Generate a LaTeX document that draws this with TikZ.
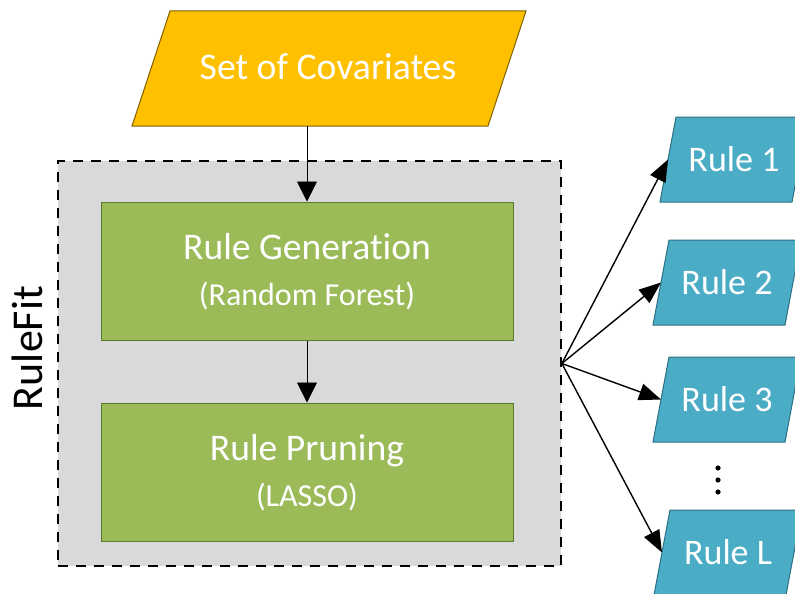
\documentclass[tikz,border=0pt]{standalone}
\usepackage{fontspec}
\setmainfont{Carlito}[Ligatures=NoCommon]
\usetikzlibrary{arrows.meta}
\definecolor{ygold}{HTML}{FFC000}
\definecolor{yedge}{HTML}{7F6000}
\definecolor{ggreen}{HTML}{9BBB59}
\definecolor{gedge}{HTML}{5A7A2E}
\definecolor{bblue}{HTML}{4BACC6}
\definecolor{bedge}{HTML}{2C6F82}
\definecolor{lgray}{HTML}{D9D9D9}
\begin{document}
\begin{tikzpicture}[x=1pt,y=-1pt,
  greenbox/.style={draw=gedge, fill=ggreen, line width=1pt, minimum width=412pt, minimum height=138pt, inner sep=0pt},
  wtext/.style={text=white, anchor=base, inner sep=0pt},
  arr/.style={-{Triangle[length=20pt,width=20pt]}, line width=0.9pt},
  farr/.style={-{Triangle[length=22pt,width=17pt]}, line width=1.4pt},
  rulebox/.style={draw=bedge, fill=bblue, line width=1pt},
  ruletext/.style={wtext, font=\fontsize{36pt}{40pt}\selectfont},
]
\useasboundingbox (0,0) rectangle (795,594);

% RuleFit container
\node[draw=black, dash pattern=on 10pt off 8pt, line width=1.7pt, fill=lgray,
      minimum width=503pt, minimum height=405pt, inner sep=0pt] (rulefit) at (309.5,363.5) {};
\node[anchor=base, rotate=90, inner sep=0pt, font=\fontsize{44pt}{48pt}\selectfont] (rflabel) at (42,348) {RuleFit};

% green boxes
\node[greenbox] (gen) at (307,271) {};
\node[wtext, font=\fontsize{37.6pt}{40pt}\selectfont] (genA) at (307,259) {Rule Generation};
\node[wtext, font=\fontsize{32pt}{36pt}\selectfont] (genB) at (307,305) {(Random Forest)};

\node[greenbox] (prune) at (307,472) {};
\node[wtext, font=\fontsize{37.6pt}{40pt}\selectfont] (prA) at (307,460) {Rule Pruning};
\node[wtext, font=\fontsize{32pt}{36pt}\selectfont] (prB) at (307,506) {(LASSO)};

% yellow input
\draw[draw=yedge, fill=ygold, line width=1pt] (170,11) -- (526,11) -- (488,126) -- (132,126) -- cycle;
\node[wtext, font=\fontsize{37.7pt}{40pt}\selectfont] (cov) at (328,80) {Set of Covariates};
\coordinate (covb) at (307,126);

\draw[arr] (covb) -- (gen.north);
\draw[arr] (gen.south) -- (prune.north);

% rules
\draw[rulebox] (676,117) -- (808,117) -- (792,202) -- (660,202) -- cycle;
\coordinate (r1) at (668,159.5);
\node[ruletext] (t1) at (734,171) {Rule 1};

\draw[rulebox] (669,240) -- (801,240) -- (785,325) -- (653,325) -- cycle;
\coordinate (r2) at (661,282.5);
\node[ruletext] (t2) at (727,294) {Rule 2};

\draw[rulebox] (669,357) -- (801,357) -- (785,442) -- (653,442) -- cycle;
\coordinate (r3) at (661,399.5);
\node[ruletext] (t3) at (727,411) {Rule 3};

\draw[rulebox] (670,510) -- (802,510) -- (786,595) -- (654,595) -- cycle;
\coordinate (rL) at (662,552.5);
\node[ruletext] (tL) at (728,564) {Rule L};

\fill (718,468) circle (2.6pt);
\fill (718,480) circle (2.6pt);
\fill (718,492) circle (2.6pt);

\draw[farr] (rulefit.east) -- (r1);
\draw[farr] (rulefit.east) -- (r2);
\draw[farr] (rulefit.east) -- (r3);
\draw[farr] (rulefit.east) -- (rL);
\end{tikzpicture}
\end{document}
